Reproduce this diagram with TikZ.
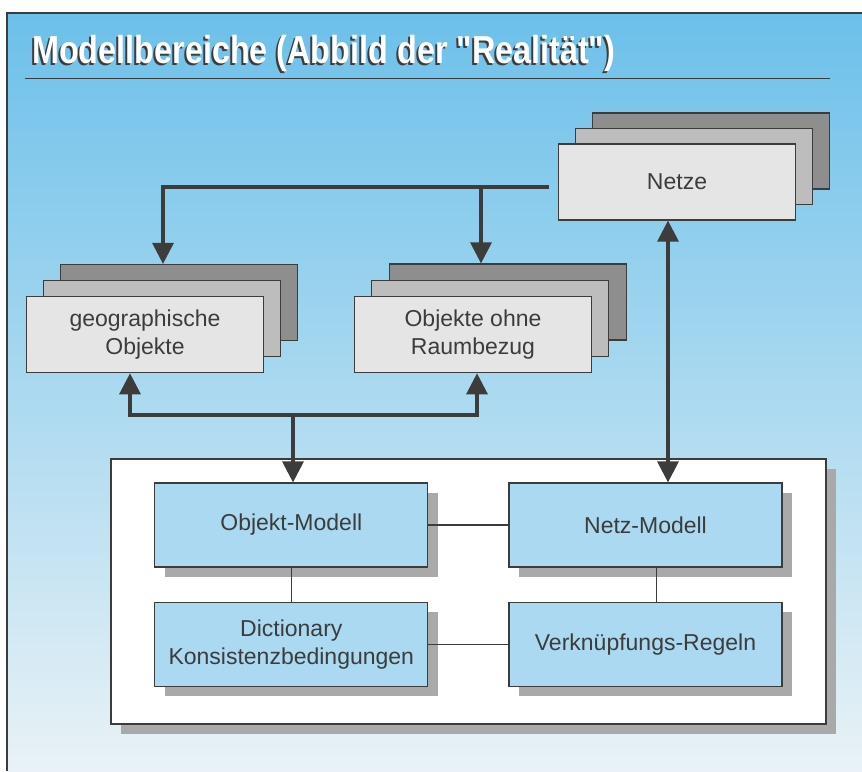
\documentclass[tikz,border=0pt]{standalone}
\usepackage{fontspec}
\setmainfont{Liberation Sans}
\newfontfamily\headfam{Liberation Sans}[Ligatures=TeXOff]
\usetikzlibrary{arrows.meta,shadows}
\definecolor{bgtop}{HTML}{6CC0EA}
\definecolor{bgbot}{HTML}{E9F2F6}
\definecolor{inkgray}{HTML}{3C3C3C}
\definecolor{sheetA}{HTML}{E5E5E5}
\definecolor{sheetB}{HTML}{BDBDBD}
\definecolor{sheetC}{HTML}{8E8E8E}
\definecolor{modblue}{HTML}{AAD9F1}
\definecolor{shadegray}{HTML}{A9A9A9}
\newcommand{\boxfont}{\fontsize{23}{27.5}\selectfont}
\newcommand{\headfont}{\headfam\fontsize{39}{44}\selectfont\bfseries}
\newcommand{\headtext}{Modellbereiche (Abbild der "Realität")}

\begin{document}
\begin{tikzpicture}[x=1pt,y=-1pt,
  arr/.style={line width=3.2pt,draw=inkgray,-{Triangle[length=21pt,width=21pt]}},
  dblarr/.style={line width=3.2pt,draw=inkgray,{Triangle[length=21pt,width=21pt]}-{Triangle[length=21pt,width=21pt]}},
  link/.style={line width=1.2pt,draw=inkgray}]
\tikzstyle{sheet}=[draw=inkgray,line width=1.2pt,minimum width=237pt,minimum height=76pt,inner sep=0pt,align=center,text=inkgray,font=\boxfont]
\tikzstyle{modbox}=[draw=inkgray,line width=1.2pt,fill=modblue,minimum width=273pt,minimum height=84pt,inner sep=0pt,align=center,text=inkgray,font=\boxfont,
  drop shadow={shadow xshift=10pt,shadow yshift=-10pt,fill=shadegray,opacity=1}]
\useasboundingbox (0,0) rectangle (862,771);
\fill[white] (0,0) rectangle (862,771);
\fill[top color=bgtop,bottom color=bgbot] (7,13) rectangle (862,771);
\draw[inkgray,line width=1.2pt] (862,13) -- (7,13) -- (7,771);

% heading
\node[anchor=base west,inner sep=0pt,text=inkgray] (headshadow) at (30,65) {\headfont\scalebox{0.83}[1]{\headtext}};
\node[anchor=base west,inner sep=0pt,text=white] (head) at (32,63) {\headfont\scalebox{0.83}[1]{\headtext}};
\draw[inkgray,line width=1pt] (25,78) -- (830,78);

% stacked sheets
\node[sheet,fill=sheetC] (netze3) at (711,151) {};
\node[sheet,fill=sheetB] (netze2) at (694,166.5) {};
\node[sheet,fill=sheetA] (netze) at (677,182) {Netze};
\node[sheet,fill=sheetC] (geo3) at (179,302.5) {};
\node[sheet,fill=sheetB] (geo2) at (162,318.5) {};
\node[sheet,fill=sheetA] (geo) at (145,334.7) {geographische\\Objekte};
\node[sheet,fill=sheetC] (ohne3) at (508,302) {};
\node[sheet,fill=sheetB] (ohne2) at (490,318.5) {};
\node[sheet,fill=sheetA] (ohne) at (473,334.7) {Objekte ohne\\Raumbezug};

% model frame
\node[draw=inkgray,line width=1.2pt,fill=white,minimum width=715pt,minimum height=265pt,inner sep=0pt,
  drop shadow={shadow xshift=10pt,shadow yshift=-10pt,fill=shadegray,opacity=1}] (modell) at (468.5,591.5) {};
\node[modbox] (om) at (291.3,525) {Objekt-Modell};
\node[modbox] (nm) at (645.5,525) {Netz-Modell};
\node[modbox] (dict) at (291.3,644.3) {Dictionary\\Konsistenzbedingungen};
\node[modbox] (vr) at (645.5,644.3) {Verknüpfungs-Regeln};

\draw[link] (om) -- (nm);
\draw[link] (dict) -- (vr);
\draw[link] (om) -- (dict);
\draw[link] ([xshift=11pt]nm.south) -- ([xshift=11pt]nm.south |- vr.north);

% arrows
\coordinate (nstart) at (549,187);
\coordinate (join) at (293,415);
\draw[arr] (nstart) -| ([xshift=-16pt]geo3.north);
\draw[arr] ([xshift=-27pt]ohne3.north |- nstart) -- ([xshift=-27pt]ohne3.north);
\draw[arr] (join) -| ([xshift=-15pt]geo.south);
\draw[arr] (join) -| ([xshift=4pt]ohne.south);
\draw[arr] (join) -- (join |- om.north);
\draw[dblarr] ([xshift=-9pt]netze.south) -- ([xshift=-9pt]netze.south |- nm.north);
\end{tikzpicture}
\end{document}
